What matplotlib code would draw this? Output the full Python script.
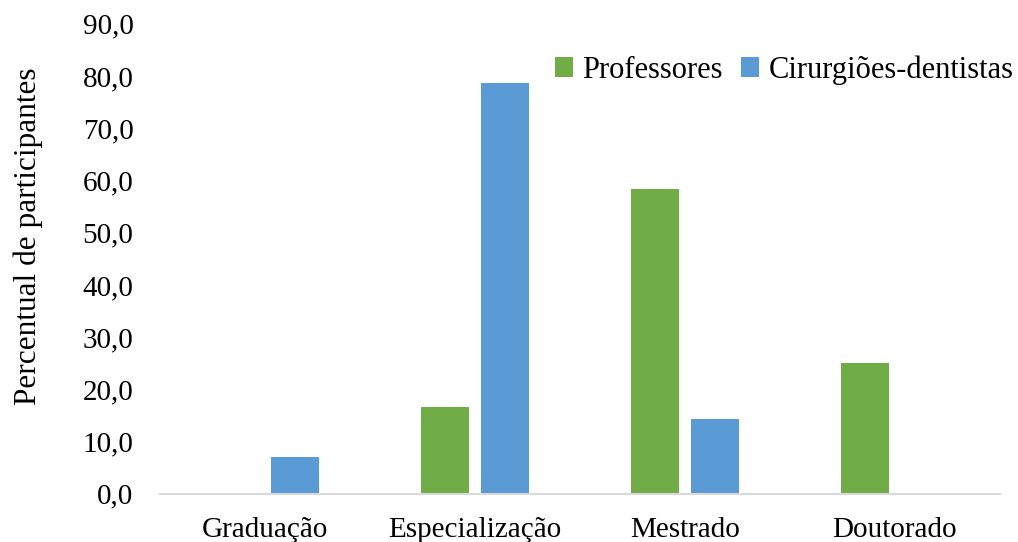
import numpy as np
import matplotlib.pyplot as plt
from matplotlib.ticker import FuncFormatter

categorias = ['Graduação', 'Especialização', 'Mestrado', 'Doutorado']
professores = [0.0, 16.7, 58.3, 25.0]
cirurgioes = [7.1, 78.6, 14.3, 0.0]
series = ['Professores', 'Cirurgiões-dentistas']

plt.rcParams['font.family'] = ['Liberation Serif', 'DejaVu Serif']

fig = plt.figure(figsize=(10.18, 5.42), dpi=100)
ax = fig.add_axes([0.157, 0.089, 0.825, 0.867])

x = np.arange(len(categorias))
largura = 0.229
desloc = 0.143
ax.bar(x - desloc, professores, largura, color='#70AD47', label=series[0])
ax.bar(x + desloc, cirurgioes, largura, color='#5B9BD5', label=series[1])

ax.set_xlim(-0.5, len(categorias) - 0.5)
ax.set_ylim(0, 90)
ax.set_yticks(np.arange(0, 91, 10))
ax.yaxis.set_major_formatter(FuncFormatter(lambda v, p: f'{v:.1f}'.replace('.', ',')))
ax.set_xticks(x)
ax.set_xticklabels(categorias)
ax.tick_params(axis='both', length=0, labelsize=21)
ax.tick_params(axis='y', pad=19)
ax.tick_params(axis='x', pad=17)

for lado in ['top', 'right', 'left']:
    ax.spines[lado].set_visible(False)
ax.spines['bottom'].set_color('#D9D9D9')
ax.spines['bottom'].set_linewidth(1.5)

ax.set_ylabel('Percentual de participantes', fontsize=22.5)
ax.yaxis.set_label_coords(-0.139, 0.547)

fig.legend(loc='center', bbox_to_anchor=(784 / 1018, 1 - 70 / 542), ncol=2,
           frameon=False, fontsize=22, handlelength=0.6, handleheight=0.6,
           handletextpad=0.3, columnspacing=0.6)

fig.savefig('out.png', dpi=100)
